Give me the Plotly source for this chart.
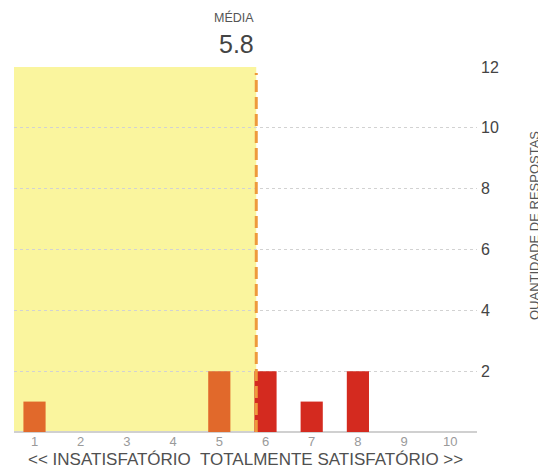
import plotly.graph_objects as go

categories = [1, 2, 3, 4, 5, 6, 7, 8, 9, 10]
counts = [1, 0, 0, 0, 2, 2, 1, 2, 0, 0]
mean_value = 5.8
y_ticks = [2, 4, 6, 8, 10, 12]
x_title = "<< INSATISFATÓRIO  TOTALMENTE SATISFATÓRIO >>"
y_title = "QUANTIDADE DE RESPOSTAS"
mean_label = "MÉDIA"

X_RANGE = [0.556, 10.578]
Y_RANGE = [0, 12]

# figure geometry (page body has an 8px margin)
W, H = 538, 465
L, R, T, B = 6, 69, 59, 41
PW, PH = W - L - R, H - T - B


def px(xf):
    return (xf - L) / PW


def py(yf):
    return (H - B - yf) / PH


bar_colors = ["#E1692B" if c <= 5 else "#D42A1F" for c in categories]

fig = go.Figure()
fig.add_trace(go.Bar(x=categories, y=counts, marker=dict(color=bar_colors, line=dict(width=0)),
                     width=0.48, hoverinfo="skip"))

fig.add_shape(type="rect", xref="x", yref="y", x0=X_RANGE[0], x1=mean_value, y0=0, y1=Y_RANGE[1],
              fillcolor="#FAF59E", line=dict(width=0), layer="below")
fig.add_shape(type="line", xref="x", yref="y", x0=mean_value, x1=mean_value, y0=0, y1=11.8,
              line=dict(color="#EE9A3C", width=3, dash="12px,5px"), layer="above")

fig.add_annotation(x=mean_value, y=py(17.5 - 8), xref="x", yref="paper", text=mean_label,
                   showarrow=False, xanchor="right", yanchor="middle", xshift=0,
                   font=dict(size=12.5, color="#555555", family="Liberation Sans"))
fig.add_annotation(x=mean_value, y=py(44 - 8), xref="x", yref="paper", text=str(mean_value),
                   showarrow=False, xanchor="right", yanchor="middle", xshift=0,
                   font=dict(size=25, color="#444444", family="Liberation Sans"))
fig.add_annotation(x=px(534 - 8), y=py(226 - 8), xref="paper", yref="paper", text=y_title,
                   showarrow=False, textangle=-90, xanchor="center", yanchor="middle",
                   font=dict(size=13, color="#555555", family="Liberation Sans"))
fig.add_annotation(x=px(246 - 8), y=py(460 - 8), xref="paper", yref="paper", text=x_title,
                   showarrow=False, xanchor="center", yanchor="middle",
                   font=dict(size=17, color="#505050", family="Liberation Sans"))

fig.update_layout(
    width=W, height=H,
    margin=dict(l=L, r=R, t=T, b=B, autoexpand=False),
    paper_bgcolor="white", plot_bgcolor="rgba(0,0,0,0)",
    showlegend=False,
    xaxis=dict(range=X_RANGE, tickvals=categories, ticktext=[str(c) for c in categories],
               showgrid=False, zeroline=False, showline=False, ticks="",
               tickfont=dict(size=13, color="#9a9a9a", family="Liberation Sans")),
    yaxis=dict(range=Y_RANGE, side="right", tickvals=y_ticks, showgrid=True,
               gridcolor="#d2d2d2", griddash="dot", gridwidth=1,
               zeroline=True, zerolinecolor="#d0d0d0", zerolinewidth=1.5,
               showline=False, ticks="", ticklabelstandoff=3,
               tickfont=dict(size=16, color="#444444", family="Liberation Sans")),
)

fig.write_html("out.html")
